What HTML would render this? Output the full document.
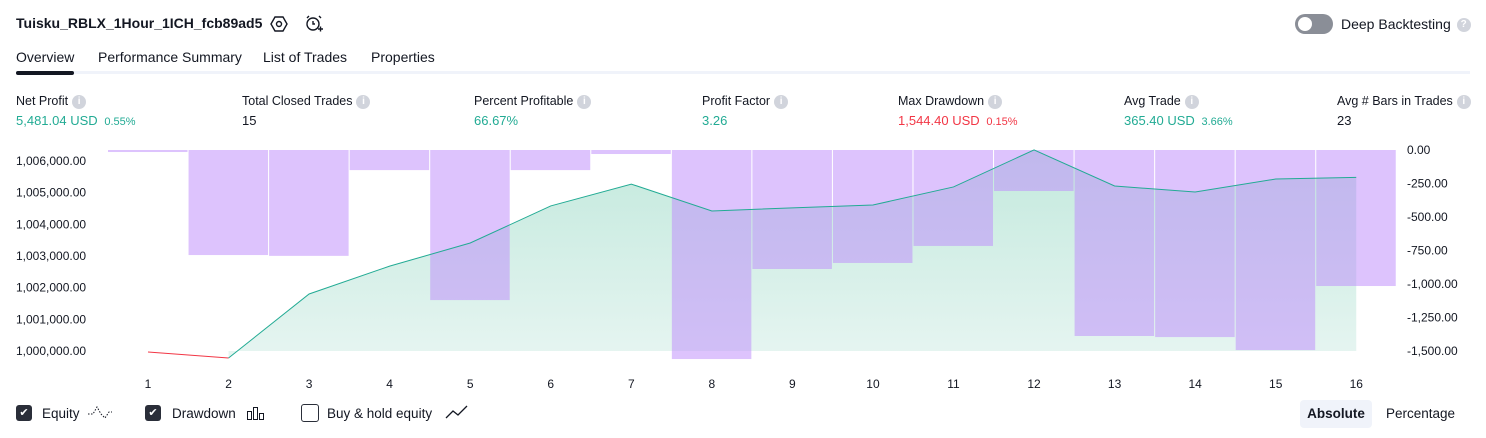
<!DOCTYPE html>
<html><head><meta charset="utf-8">
<style>
body{margin:0;width:1486px;height:438px;background:#fff;font-family:"Liberation Sans",sans-serif;color:#131722;overflow:hidden;position:relative}
.a{position:absolute;white-space:nowrap}
.lbl{font-size:12.5px;color:#131722}
.val{font-size:13px}
.info{display:inline-block;width:14px;height:14px;border-radius:50%;background:#d1d4dc;color:#fff;font-size:10px;text-align:center;line-height:14px;vertical-align:middle;margin-left:4px;font-weight:bold}
.cb{position:absolute;width:16px;height:16px;border-radius:3px;background:#2a2e39;color:#fff;font-size:11px;text-align:center;line-height:16px}
</style></head><body>
<div class="a" style="left:16px;top:15px;font-size:14px;font-weight:bold">Tuisku_RBLX_1Hour_1ICH_fcb89ad5</div>
<svg class="a" style="left:270px;top:15px" width="18" height="18" viewBox="0 0 18 18"><polygon points="5,2 13,2 17,9 13,16 5,16 1,9" fill="none" stroke="#131722" stroke-width="1.4"/><circle cx="9" cy="9" r="2.5" fill="none" stroke="#131722" stroke-width="1.4"/></svg>
<svg class="a" style="left:304px;top:14px" width="20" height="20" viewBox="0 0 20 20"><circle cx="9" cy="10" r="6" fill="none" stroke="#131722" stroke-width="1.4"/><path d="M9 7v3h2M3 4l2-2M15 2l2 2M14 15h5M16.5 12.5v5" stroke="#131722" stroke-width="1.4" fill="none"/></svg>
<div class="a" style="left:1295px;top:14px;width:38px;height:20px;border-radius:10px;background:#8a8e97"><div style="position:absolute;left:3px;top:3px;width:14px;height:14px;border-radius:50%;background:#fff"></div></div>
<div class="a" style="left:1341px;top:16px;font-size:14px">Deep Backtesting<span class="info" style="margin-left:6px">?</span></div>
<div class="a" style="left:16px;top:49px;font-size:14px">Overview</div>
<div class="a" style="left:98px;top:49px;font-size:14px">Performance Summary</div>
<div class="a" style="left:263px;top:49px;font-size:14px">List of Trades</div>
<div class="a" style="left:371px;top:49px;font-size:14px">Properties</div>
<div class="a" style="left:16px;top:71px;width:1454px;height:3px;background:#f0f3fa"></div>
<div class="a" style="left:16px;top:71px;width:58px;height:4px;border-radius:2px;background:#131722"></div>

<div class="a lbl" style="left:16px;top:94px">Net Profit<span class="info">i</span></div>
<div class="a val" style="left:16px;top:113px;color:#22ab94">5,481.04 USD <span style="font-size:11px">&nbsp;0.55%</span></div>
<div class="a lbl" style="left:242px;top:94px">Total Closed Trades<span class="info">i</span></div>
<div class="a val" style="left:242px;top:113px">15</div>
<div class="a lbl" style="left:474px;top:94px">Percent Profitable<span class="info">i</span></div>
<div class="a val" style="left:474px;top:113px;color:#22ab94">66.67%</div>
<div class="a lbl" style="left:702px;top:94px">Profit Factor<span class="info">i</span></div>
<div class="a val" style="left:702px;top:113px;color:#22ab94">3.26</div>
<div class="a lbl" style="left:898px;top:94px">Max Drawdown<span class="info">i</span></div>
<div class="a val" style="left:898px;top:113px;color:#f23645">1,544.40 USD <span style="font-size:11px">&nbsp;0.15%</span></div>
<div class="a lbl" style="left:1124px;top:94px">Avg Trade<span class="info">i</span></div>
<div class="a val" style="left:1124px;top:113px;color:#22ab94">365.40 USD <span style="font-size:11px">&nbsp;3.66%</span></div>
<div class="a lbl" style="left:1337px;top:94px">Avg # Bars in Trades<span class="info">i</span></div>
<div class="a val" style="left:1337px;top:113px">23</div>

<svg id="chart" class="a" style="left:0;top:0" width="1486" height="400"></svg>

<div class="cb" style="left:16px;top:405px">✔</div>
<div class="a" style="left:42px;top:406px;font-size:13.5px">Equity</div>
<svg class="a" style="left:87px;top:404px" width="26" height="18"><path d="M1 10h5l4-7 4 7 4 4 4-6h3" fill="none" stroke="#131722" stroke-dasharray="1.5 1.5"/></svg>
<div class="cb" style="left:145px;top:405px">✔</div>
<div class="a" style="left:172px;top:406px;font-size:13.5px">Drawdown</div>
<svg class="a" style="left:246px;top:405px" width="20" height="16"><rect x="1.5" y="6.5" width="4" height="8" fill="none" stroke="#131722"/><rect x="7.5" y="2.5" width="4" height="12" fill="none" stroke="#131722"/><rect x="13.5" y="8.5" width="4" height="6" fill="none" stroke="#131722"/></svg>
<div class="a" style="left:301px;top:404px;width:16px;height:16px;border:1px solid #2a2e39;border-radius:3px"></div>
<div class="a" style="left:327px;top:406px;font-size:13.5px">Buy &amp; hold equity</div>
<svg class="a" style="left:445px;top:404px" width="24" height="16"><path d="M1 14l7-7 5 4 9-9" fill="none" stroke="#131722" stroke-width="1.3"/></svg>
<div class="a" style="left:1300px;top:400px;width:72px;height:28px;background:#f0f3fa;border-radius:4px;font-size:13.5px;font-weight:bold;text-align:center;line-height:28px">Absolute</div>
<div class="a" style="left:1386px;top:406px;font-size:13.5px">Percentage</div>

<script>
const trades=[1,2,3,4,5,6,7,8,9,10,11,12,13,14,15,16];
const equity=[999970,999780,1001800,1002680,1003410,1004580,1005270,1004420,1004520,1004610,1005180,1006350,1005210,1005020,1005430,1005481];
const drawdown=[-15,-784,-790,-150,-1120,-150,-30,-1560,-888,-843,-716,-306,-1388,-1396,-1493,-1015];
const leftTicks=[1000000,1001000,1002000,1003000,1004000,1005000,1006000];
const rightTicks=[0,-250,-500,-750,-1000,-1250,-1500];
const NS="http://www.w3.org/2000/svg";
const svg=document.getElementById('chart');
const X=i=>148+(i-1)*80.55;
const YE=v=>351-(v-1000000)*0.03167;
const YD=v=>150-v*(201/1500);
function mk(t,a){const e=document.createElementNS(NS,t);for(const k in a)e.setAttribute(k,a[k]);svg.appendChild(e);return e;}
const defs=mk('defs',{});
defs.innerHTML='<linearGradient id="g" x1="0" y1="0" x2="0" y2="1"><stop offset="0" stop-color="#c3e9dd"/><stop offset="1" stop-color="#e6f5f1"/></linearGradient>';
// area (from trade 2 onwards, above baseline)
let d='M'+X(2)+' '+YE(1000000);
for(let i=1;i<trades.length;i++)d+=' L'+X(trades[i])+' '+YE(equity[i]);
d+=' L'+X(trades[trades.length-1])+' '+YE(1000000)+'Z';
const ar=mk('path',{d:d,fill:'url(#g)'});


// bars
trades.forEach((t,i)=>{
 const y0=YD(0),y1=YD(drawdown[i]);
 const r=mk('rect',{x:X(t)-40,y:y0,width:79.5,height:Math.max(1,y1-y0),fill:'rgba(190,140,252,0.52)'});
 
 
});
// line
const lr=mk('line',{x1:X(1),y1:YE(equity[0]),x2:X(2),y2:YE(equity[1]),stroke:'#f23645','stroke-width':1});


let p='';
for(let i=1;i<trades.length;i++)p+=(i==1?'M':' L')+X(trades[i])+' '+YE(equity[i]);
const ln=mk('path',{d:p,fill:'none',stroke:'#22ab94','stroke-width':1});


leftTicks.forEach(v=>{const t=mk('text',{x:16,y:YE(v)+4,'font-size':12,fill:'#131722'});t.textContent=v.toLocaleString('en-US',{minimumFractionDigits:2});

});
rightTicks.forEach(v=>{const t=mk('text',{x:1407,y:YD(v)+4,'font-size':12,fill:'#131722'});t.textContent=v.toLocaleString('en-US',{minimumFractionDigits:2});

});
trades.forEach(v=>{const t=mk('text',{x:X(v),y:388,'font-size':12,fill:'#131722','text-anchor':'middle'});t.textContent=v;

});
</script>
</body></html>
